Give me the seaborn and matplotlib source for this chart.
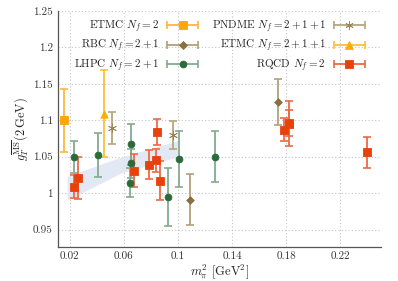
import numpy as np
import pandas as pd
import seaborn as sns
import matplotlib.pyplot as plt
from matplotlib.lines import Line2D
from matplotlib.legend_handler import HandlerLine2D, HandlerTuple

# values
etmc2_x = [0.0156]
etmc2_y = [1.100]
etmc2_err = [0.043]

rbc_x = [0.1088, 0.1737]
rbc_y = [0.991, 1.125]
rbc_err = [0.035, 0.032]

lhpc_x = [0.0227, 0.0410, 0.0649, 0.0650, 0.0647, 0.0923, 0.1009, 0.1273]
lhpc_y = [1.049, 1.052, 1.067, 1.041, 1.014, 0.995, 1.047, 1.050]
lhpc_err = [0.022, 0.030, 0.028, 0.020, 0.020, 0.040, 0.038, 0.035]

pndme_x = [0.0513, 0.0964]
pndme_y = [1.089, 1.080]
pndme_err = [0.022, 0.019]

etmc211_x = [0.0454]
etmc211_y = [1.109]
etmc211_err = [0.060]

rqcd_x = [0.0230, 0.0257, 0.0676, 0.0785, 0.0845, 0.0840, 0.0869, 0.1786, 0.1823, 0.1820, 0.2400]
rqcd_y = [1.009, 1.021, 1.031, 1.039, 1.084, 1.045, 1.017, 1.087, 1.095, 1.096, 1.056]
rqcd_err = [0.016, 0.029, 0.022, 0.020, 0.018, 0.016, 0.027, 0.016, 0.031, 0.018, 0.021]

band_x = [0.018, 0.057, 0.100]
band_lo = [0.990, 1.027, 1.050]
band_hi = [1.023, 1.049, 1.072]

xticks = [0.02, 0.06, 0.1, 0.14, 0.18, 0.22]
yticks = [0.95, 1.0, 1.05, 1.1, 1.15, 1.2, 1.25]

sns.set_style("white")
plt.rcParams['font.family'] = 'serif'
plt.rcParams['font.serif'] = ['cmr10']
plt.rcParams['mathtext.fontset'] = 'cm'
plt.rcParams['axes.formatter.use_mathtext'] = True

fig = plt.figure(figsize=(3.98, 2.81), dpi=100)
ax = fig.add_axes([0.145, 0.121, 0.812, 0.840])

ax.fill_between(band_x, band_lo, band_hi, color='#dfe6f3', alpha=0.9, lw=0, zorder=1)

# label, x, y, err, marker, colour, errorbar colour, marker size
groups = [
    (r'ETMC $N_f = 2$', etmc2_x, etmc2_y, etmc2_err, 's', '#fca60a', '#fcb840', 28),
    (r'RBC $N_f = 2+1$', rbc_x, rbc_y, rbc_err, 'D', '#8a7040', '#b3a07a', 15),
    (r'LHPC $N_f = 2+1$', lhpc_x, lhpc_y, lhpc_err, 'o', '#2b6b3b', '#84ab8e', 24),
    (r'PNDME $N_f = 2+1+1$', pndme_x, pndme_y, pndme_err, (6, 2, 0), '#9a8458', '#b5a57f', 34),
    (r'ETMC $N_f = 2+1+1$', etmc211_x, etmc211_y, etmc211_err, '^', '#ffae00', '#ffbe3a', 28),
    (r'RQCD $N_f = 2$', rqcd_x, rqcd_y, rqcd_err, 's', '#e8420c', '#ec6a45', 28),
]

handles, labels, hmap = [], [], {}
for label, x, y, err, marker, color, ecolor, size in groups:
    ax.errorbar(x, y, yerr=err, fmt='none', ecolor=ecolor, elinewidth=1.3,
                capsize=3, capthick=1.2, zorder=2)
    df = pd.DataFrame({'x': x, 'y': y})
    sns.scatterplot(data=df, x='x', y='y', marker=marker, color=color, s=size,
                    edgecolor=color, linewidth=0.6, ax=ax, zorder=3, legend=False)
    caps = Line2D([], [], color=ecolor, marker='|', markersize=6,
                  markeredgewidth=1.2, lw=1.3)
    mark = Line2D([], [], color=color, marker=marker, ls='none',
                  markersize=np.sqrt(size), markeredgewidth=0.6)
    hmap[caps] = HandlerLine2D(numpoints=2, marker_pad=0)
    hmap[mark] = HandlerLine2D(numpoints=1)
    handles.append((caps, mark))
    labels.append(label)
hmap[tuple] = HandlerTuple(ndivide=1)

ax.set_xlim(0.011, 0.25)
ax.set_ylim(0.926, 1.25)
ax.set_xticks(xticks)
ax.set_xticklabels(['0.02', '0.06', '0.1', '0.14', '0.18', '0.22'])
ax.set_yticks(yticks)
ax.set_yticklabels(['0.95', '1', '1.05', '1.1', '1.15', '1.2', '1.25'])
ax.tick_params(direction='in', length=4, width=0.8, labelsize=8, colors='#333333')
ax.grid(True, color='#c4c4c4', linestyle=(0, (1, 2)), linewidth=0.8)
ax.set_axisbelow(True)
for side in ['top', 'right']:
    ax.spines[side].set_visible(False)
for side in ['left', 'bottom']:
    ax.spines[side].set_color('#555555')
    ax.spines[side].set_linewidth(0.9)

ax.set_xlabel(r'$m_\pi^2$ [GeV$^2$]', fontsize=9, labelpad=1)
ax.set_ylabel(r'$g_T^{\overline{\rm MS}}(2\,{\rm GeV})$', fontsize=9, labelpad=2)

ax.legend(handles, labels, handler_map=hmap, ncol=2, loc='upper right',
          bbox_to_anchor=(0.975, 1.0), frameon=False, markerfirst=False,
          fontsize=8, handlelength=2.8, columnspacing=1.2, labelspacing=0.25,
          handletextpad=0.7, borderaxespad=0.3)

fig.savefig('out.png', dpi=100)
